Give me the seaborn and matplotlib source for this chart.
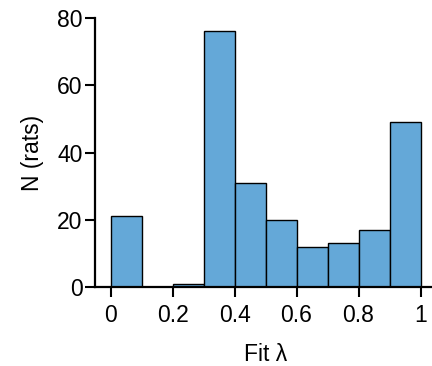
import matplotlib
matplotlib.use("Agg")
import matplotlib.pyplot as plt
import seaborn as sns
import numpy as np

bin_edges = [0.0, 0.1, 0.2, 0.3, 0.4, 0.5, 0.6, 0.7, 0.8, 0.9, 1.0]
bin_centers = [0.05, 0.15, 0.25, 0.35, 0.45, 0.55, 0.65, 0.75, 0.85, 0.95]
counts = [21, 0, 1, 76, 31, 20, 12, 13, 17, 49]
xticks = [0, 0.2, 0.4, 0.6, 0.8, 1]
xticklabels = ["0", "0.2", "0.4", "0.6", "0.8", "1"]
yticks = [0, 20, 40, 60, 80]

sns.set_style("ticks")
plt.rcParams['font.family'] = ['Liberation Sans', 'DejaVu Sans']
plt.rcParams['text.color'] = 'black'
plt.rcParams['axes.labelcolor'] = 'black'
plt.rcParams['xtick.color'] = 'black'
plt.rcParams['ytick.color'] = 'black'

fig = plt.figure(figsize=(4.32, 3.66), dpi=100)
ax = fig.add_axes([95/432, 79/366, (436-95)/432, (287-18)/366])

sns.histplot(x=bin_centers, weights=counts, bins=bin_edges, ax=ax,
             color="#64a8d8", alpha=1, edgecolor="black", linewidth=1)

ax.set_xlim(-0.05, 1.05)
ax.set_ylim(0, 80)
ax.set_xticks(xticks)
ax.set_xticklabels(xticklabels)
ax.set_yticks(yticks)
ax.set_xlabel("Fit λ", fontsize=16.5, labelpad=12)
ax.set_ylabel("N (rats)", fontsize=16.5, labelpad=9)
ax.tick_params(axis='both', labelsize=16.5, width=1.5, length=7, direction='out',
               color='black', labelcolor='black')
ax.tick_params(axis='y', pad=2)
ax.tick_params(axis='x', pad=5)
for s in ['top', 'right']:
    ax.spines[s].set_visible(False)
for s in ['left', 'bottom']:
    ax.spines[s].set_linewidth(1.6)
    ax.spines[s].set_color('black')

fig.savefig("out.png", dpi=100)
